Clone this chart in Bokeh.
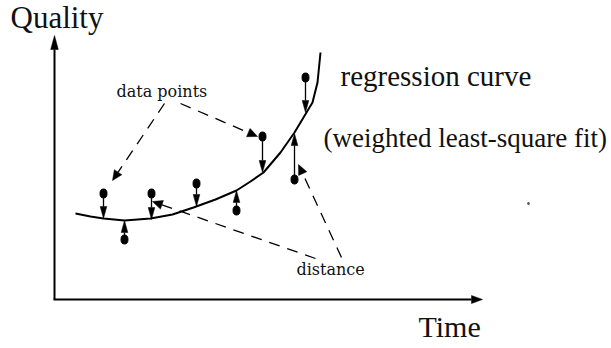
import math
from bokeh.plotting import figure
from bokeh.models import Range1d
from bokeh.core.properties import value
from bokeh.embed import file_html
from bokeh.resources import INLINE

# ---- data (image-pixel coordinates, y grows downward) ----
curve_x = [75, 90, 103, 124, 150, 172, 193, 215, 236, 250, 263, 280, 294, 300, 306, 312, 317, 320]
curve_y = [213, 216, 218, 220, 218, 214, 207, 199, 190, 181, 172, 152, 132, 122, 112, 102, 82, 52]

dots_x = [103, 124, 151, 196, 236, 262, 294, 305]
dots_y = [193, 239, 193, 183, 210, 136, 179, 77]
fit_y = [218, 220, 219, 206, 190, 172, 133, 112]

# dashed pointer lines: start -> tip
dash_x0 = [164, 180, 315, 341]
dash_y0 = [103, 103, 258, 257]
dash_x1 = [112, 257, 152, 298]
dash_y1 = [180, 136, 201, 164]

# axes: origin and tips
axis_origin = (54, 299)
axis_y_tip = (54, 35)
axis_x_tip = (482, 299)

labels = ["Quality", "regression curve", "(weighted least-square fit)", "data points", "distance", "Time"]
label_x = [10, 340, 323, 116, 296, 418]
label_y = [17, 75, 137, 91, 269, 326]
label_size = ["31px", "29px", "27px", "16px", "16px", "30px"]
label_font = ["Liberation Serif", "Liberation Serif", "Liberation Serif", "DejaVu Serif", "DejaVu Serif", "Liberation Serif"]

speck_x = [528]
speck_y = [203]

p = figure(width=611, height=348, output_backend="svg", toolbar_location=None,
           x_range=Range1d(0, 611), y_range=Range1d(348, 0), min_border=0)
p.axis.visible = False
p.grid.visible = False
p.outline_line_color = None
p.background_fill_color = "white"
p.border_fill_color = "white"


def head(x0, y0, x1, y1, L, hw):
    dx, dy = x1 - x0, y1 - y0
    n = math.hypot(dx, dy)
    ux, uy = dx / n, dy / n
    bx, by = x1 - L * ux, y1 - L * uy
    px, py = -uy, ux
    return [x1, bx + hw * px, bx - hw * px], [y1, by + hw * py, by - hw * py], (bx, by)


# axes
ox, oy = axis_origin
hx, hy, b = head(ox, oy, axis_y_tip[0], axis_y_tip[1], 14, 3.8)
p.line([ox, b[0]], [oy, b[1]], line_color="black", line_width=2)
p.patch(hx, hy, fill_color="black", line_color="black", line_width=0.5)
hx, hy, b = head(ox, oy, axis_x_tip[0], axis_x_tip[1], 11, 4)
p.line([ox - 1, b[0]], [oy, b[1]], line_color="black", line_width=2)
p.patch(hx, hy, fill_color="black", line_color="black", line_width=0.5)

# regression curve
p.line(curve_x, curve_y, line_color="black", line_width=2)

# residual arrows
hxs, hys = [], []
for x, y0, y1 in zip(dots_x, dots_y, fit_y):
    hx, hy, b = head(x, y0, x, y1, 12, 3.3)
    p.line([x, b[0]], [y0, b[1]], line_color="black", line_width=1.3)
    hxs.append(hx)
    hys.append(hy)
p.patches(hxs, hys, fill_color="black", line_color="black", line_width=0.5)

p.ellipse(dots_x, dots_y, width=7, height=9, width_units="screen", height_units="screen",
          fill_color="black", line_color="black")

# dashed pointers
hxs, hys = [], []
for x0, y0, x1, y1 in zip(dash_x0, dash_y0, dash_x1, dash_y1):
    hx, hy, b = head(x0, y0, x1, y1, 10, 4.5)
    p.line([x0, b[0]], [y0, b[1]], line_color="black", line_width=1.3, line_dash="11 8")
    hxs.append(hx)
    hys.append(hy)
p.patches(hxs, hys, fill_color="black", line_color="black", line_width=0.5)

p.scatter(speck_x, speck_y, size=2, color="#555555")

for t, x, y, s, f in zip(labels, label_x, label_y, label_size, label_font):
    p.text([x], [y], text=[t], text_font=value(f), text_font_size=s,
           text_baseline="alphabetic", text_align="left", text_color="#111111")

open("out.html", "w").write(file_html(p, INLINE))
